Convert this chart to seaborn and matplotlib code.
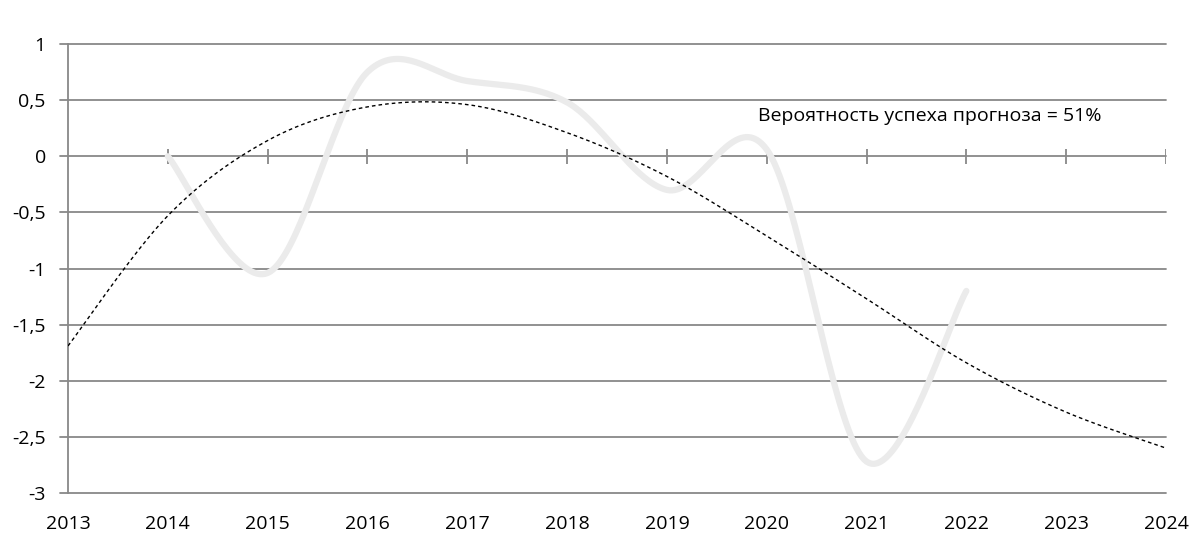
import numpy as np
import pandas as pd
import matplotlib
matplotlib.use("Agg")
import matplotlib.pyplot as plt
import seaborn as sns

# ---- data ----
years = [2014, 2015, 2016, 2017, 2018, 2019, 2020, 2021, 2022]
values = [0.0, -1.04, 0.75, 0.67, 0.48, -0.30, 0.06, -2.72, -1.20]

trend_years = [2013, 2014, 2015, 2016, 2017, 2018, 2019, 2020, 2021, 2022, 2023, 2024]
trend_values = [-1.69, -0.53, 0.14, 0.44, 0.46, 0.21, -0.18, -0.71, -1.27, -1.84, -2.28, -2.60]

x_ticks = list(range(2013, 2025))
y_ticks = [1, 0.5, 0, -0.5, -1, -1.5, -2, -2.5, -3]
y_labels = ["1", "0,5", "0", "-0,5", "-1", "-1,5", "-2", "-2,5", "-3"]
note = "Вероятность успеха прогноза = 51%"


def smooth(xs, ys, n=40):
    """Excel-style smoothed line (Catmull-Rom Bezier) through the given points."""
    xs = np.asarray(xs, float)
    ys = np.asarray(ys, float)
    px = np.concatenate([[xs[0]], xs, [xs[-1]]])
    py = np.concatenate([[ys[0]], ys, [ys[-1]]])
    ox, oy = [], []
    for i in range(1, len(px) - 2):
        p0 = np.array([px[i - 1], py[i - 1]])
        p1 = np.array([px[i], py[i]])
        p2 = np.array([px[i + 1], py[i + 1]])
        p3 = np.array([px[i + 2], py[i + 2]])
        c1 = p1 + (p2 - p0) / 6.0
        c2 = p2 - (p3 - p1) / 6.0
        t = np.linspace(0, 1, n)[:, None]
        pts = ((1 - t) ** 3) * p1 + 3 * ((1 - t) ** 2) * t * c1 + 3 * (1 - t) * t ** 2 * c2 + t ** 3 * p2
        if i > 1:
            pts = pts[1:]
        ox.extend(pts[:, 0])
        oy.extend(pts[:, 1])
    return np.array(ox), np.array(oy)


sns.set_theme(style="white")
plt.rcParams["font.family"] = ["Open Sans", "DejaVu Sans"]

fig = plt.figure(figsize=(12, 5.58), dpi=100)
ax = fig.add_axes([68 / 1200, 1 - 493 / 558, (1166 - 68) / 1200, (493 - 44) / 558])

grid_c = "#888888"
for yv in y_ticks:
    ax.axhline(yv, color=grid_c, lw=1.3, zorder=1, clip_on=False, xmin=-8 / 1098, xmax=1)

sx, sy = smooth(years, values)
df = pd.DataFrame({"x": sx, "y": sy})
sns.lineplot(data=df, x="x", y="y", ax=ax, color="#ebebeb", lw=4.5, sort=False,
             estimator=None, zorder=2)

tx, ty = smooth(trend_years, trend_values)
dft = pd.DataFrame({"x": tx, "y": ty})
sns.lineplot(data=dft, x="x", y="y", ax=ax, color="black", lw=1.0, sort=False,
             estimator=None, zorder=3, linestyle=(0, (2.6, 2.2)))

# axis line at zero with crossing ticks
ax.vlines(x_ticks[1:], -0.068, 0.068, color=grid_c, lw=1.3, zorder=1)

ax.set_xlim(2013, 2024)
ax.set_ylim(-3, 1)
ax.set_xticks(x_ticks)
ax.set_xticklabels([str(v) for v in x_ticks])
ax.set_yticks(y_ticks)
ax.set_yticklabels(y_labels)
ax.tick_params(axis="x", length=0, pad=16, labelsize=14, colors="black")
ax.tick_params(axis="y", length=0, pad=16, labelsize=14, colors="black")
ax.set_xlabel("")
ax.set_ylabel("")
for s in ["top", "right", "bottom"]:
    ax.spines[s].set_visible(False)
ax.spines["left"].set_color(grid_c)
ax.spines["left"].set_linewidth(1.3)

ax.text(2019.91, 0.36, note, fontsize=14, color="black", va="center", ha="left")

fig.savefig("out.png", dpi=100)
